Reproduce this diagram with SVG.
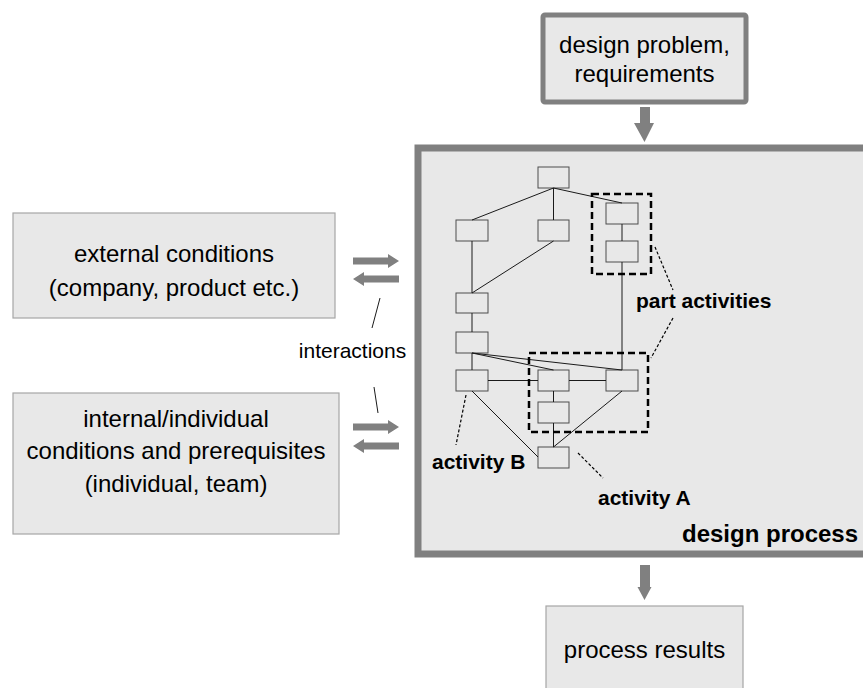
<svg xmlns="http://www.w3.org/2000/svg" width="863" height="688" viewBox="0 0 863 688">
<style>
text{font-family:"Liberation Sans",Arial,sans-serif;fill:#000}
.big{font-size:24px}
.lbl{font-size:21px;font-weight:bold}
.box{fill:#e8e8e8;stroke:#a6a6a6;stroke-width:1.2}
.node{fill:#e8e8e8;stroke:#4d4d4d;stroke-width:1}
.ln{stroke:#1a1a1a;stroke-width:1;fill:none}
.grp{fill:none;stroke:#000;stroke-width:2.5;stroke-dasharray:7,4}
.lead{stroke:#000;stroke-width:1.2;stroke-dasharray:3,2;fill:none}
.arr{fill:#808080}
</style>
<rect width="863" height="688" fill="#fff"/>
<g id="design-process">
<rect x="418" y="148" width="460" height="406" fill="#e8e8e8" stroke="#808080" stroke-width="7"/>
<text class="big" x="682" y="542" font-weight="bold">design process</text>
</g>
<g id="design-problem">
<rect x="543" y="15" width="203" height="87" rx="2" fill="#e8e8e8" stroke="#808080" stroke-width="5"/>
<text class="big" x="644.5" y="53" text-anchor="middle">design problem,</text>
<text class="big" x="644.5" y="82" text-anchor="middle">requirements</text>
</g>
<g id="external-conditions">
<rect class="box" x="13" y="213" width="322" height="105"/>
<text class="big" x="174" y="262" text-anchor="middle">external conditions</text>
<text class="big" x="174" y="296" text-anchor="middle">(company, product etc.)</text>
</g>
<g id="internal-conditions">
<rect class="box" x="13" y="393" width="326" height="141"/>
<text class="big" x="176" y="427" text-anchor="middle">internal/individual</text>
<text class="big" x="176" y="459" text-anchor="middle">conditions and prerequisites</text>
<text class="big" x="176" y="492" text-anchor="middle">(individual, team)</text>
</g>
<g id="process-results">
<rect class="box" x="546" y="606" width="197" height="90"/>
<text class="big" x="644.5" y="658" text-anchor="middle">process results</text>
</g>
<g id="interactions">
<text x="352.5" y="358" font-size="21" text-anchor="middle">interactions</text>
<line class="ln" x1="380" y1="298" x2="372" y2="328"/>
<line class="ln" x1="374" y1="387" x2="378" y2="413"/>
</g>
<g id="activities">
<rect id="n1" class="node" x="538" y="167" width="31" height="21"/>
<rect id="n2" class="node" x="456" y="220" width="32" height="21"/>
<rect id="n3" class="node" x="538" y="220" width="31" height="21"/>
<rect id="n4" class="node" x="606" y="203" width="32" height="21"/>
<rect id="n5" class="node" x="606" y="241" width="32" height="21"/>
<rect id="n6" class="node" x="456" y="293" width="32" height="20"/>
<rect id="n7" class="node" x="456" y="332" width="32" height="21"/>
<rect id="n8" class="node" x="456" y="370" width="32" height="21"/>
<rect id="n9" class="node" x="538" y="370" width="31" height="21"/>
<rect id="n10" class="node" x="606" y="370" width="32" height="21"/>
<rect id="n11" class="node" x="538" y="402" width="31" height="21"/>
<rect id="n12" class="node" x="538" y="447" width="31" height="21"/>
</g>
<g id="connectors">
<line class="ln" x1="553.5" y1="188" x2="472" y2="220"/>
<line class="ln" x1="553.5" y1="188" x2="553.5" y2="220"/>
<line class="ln" x1="553.5" y1="188" x2="622" y2="203"/>
<line class="ln" x1="622" y1="224" x2="622" y2="241"/>
<line class="ln" x1="622" y1="262" x2="622" y2="370"/>
<line class="ln" x1="472" y1="241" x2="472" y2="293"/>
<line class="ln" x1="553.5" y1="241" x2="472" y2="293"/>
<line class="ln" x1="472" y1="313" x2="472" y2="332"/>
<line class="ln" x1="472" y1="353" x2="472" y2="370"/>
<line class="ln" x1="472" y1="353" x2="553.5" y2="370"/>
<line class="ln" x1="472" y1="353" x2="622" y2="370"/>
<line class="ln" x1="488" y1="380.5" x2="538" y2="380.5"/>
<line class="ln" x1="569" y1="380.5" x2="606" y2="380.5"/>
<line class="ln" x1="553.5" y1="391" x2="553.5" y2="402"/>
<line class="ln" x1="553.5" y1="423" x2="553.5" y2="447"/>
<line class="ln" x1="472" y1="391" x2="538" y2="457"/>
<line class="ln" x1="622" y1="391" x2="553.5" y2="447"/>
<polygon class="arr" points="640,107 650,107 650,123 654,123 644.5,142 634,123 640,123"/>
<polygon class="arr" points="640,565 650,565 650,587 651.5,587 644.5,600 637.5,587 640,587"/>
<polygon class="arr" points="353,257.5 388,257.5 388,254 399,261 388,268 388,264.5 353,264.5"/>
<polygon class="arr" points="399,275.5 364,275.5 364,272 353,279 364,286 364,282.5 399,282.5"/>
<polygon class="arr" points="353,423.5 388,423.5 388,420 399,427 388,434 388,430.5 353,430.5"/>
<polygon class="arr" points="399,442.5 364,442.5 364,439 353,446 364,453 364,449.5 399,449.5"/>
</g>
<g id="part-activities">
<rect class="grp" x="592" y="194" width="59" height="80"/>
<rect class="grp" x="529" y="353" width="119" height="79"/>
<line class="lead" x1="655" y1="247" x2="673" y2="290"/>
<line class="lead" x1="673" y1="318" x2="651" y2="358"/>
<text class="lbl" x="636" y="308">part activities</text>
</g>
<g id="activity-labels">
<line class="lead" x1="466" y1="395" x2="456" y2="445"/>
<text class="lbl" x="432" y="469">activity B</text>
<line class="lead" x1="578" y1="453" x2="603" y2="478"/>
<text class="lbl" x="598" y="505">activity A</text>
</g>
</svg>
